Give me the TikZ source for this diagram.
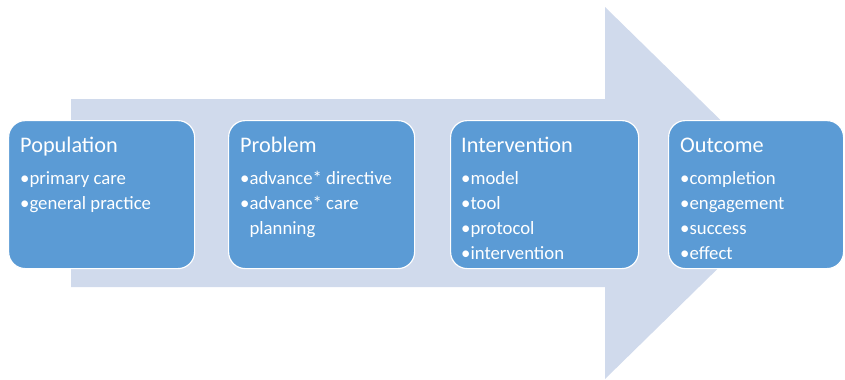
\documentclass[tikz,border=0pt]{standalone}
\usepackage{fontspec}
\setmainfont{Carlito}
\usetikzlibrary{positioning}
\definecolor{boxblue}{RGB}{91,155,213}
\definecolor{arrowgray}{RGB}{208,218,236}

\begin{document}
\begin{tikzpicture}[x=0.03cm, y=-0.03cm,
	stepbox/.style={draw=white, line width=1pt, fill=boxblue, rounded corners=0.5cm, minimum height=4.44cm, inner sep=0pt, anchor=north west},
	boxtitle/.style={text=white, font=\fontsize{19}{22}\selectfont, inner sep=0pt, anchor=base west},
	boxitems/.style={text=white, font=\fontsize{16}{21.2}\selectfont, align=left, inner sep=0pt, anchor=north west}]
			\useasboundingbox (0, 0) rectangle (845, 379);
			
			% big arrow behind the boxes
			\fill[arrowgray] (71, 99) -- (605, 99) -- (605, 7) -- (795, 193) -- (605, 379) -- (605, 287) -- (71, 287) -- cycle;
			
			\node [stepbox, minimum width=5.58cm] (population) at (8, 120) {};
			\node [stepbox, minimum width=5.58cm] (problem) at (228, 120) {};
			\node [stepbox, minimum width=5.64cm] (intervention) at (450, 120) {};
			\node [stepbox, minimum width=5.25cm] (outcome) at (668, 120) {};
			
			% item lists hang from the top of their first line
			\node [boxtitle] (populationtitle) at (20, 152) {Population};
			\node [boxitems] (populationitems) at (20, 167) {\strut•primary care\\•general practice};
			
			\node [boxtitle] (problemtitle) at (240, 152) {Problem};
			\node [boxitems] (problemitems) at (240, 167) {\strut•advance* directive\\•advance* care\\\phantom{•}planning};
			
			\node [boxtitle] (interventiontitle) at (461, 152) {Intervention};
			\node [boxitems] (interventionitems) at (461, 167) {\strut•model\\•tool\\•protocol\\•intervention};
			
			\node [boxtitle] (outcometitle) at (680, 152) {Outcome};
			\node [boxitems] (outcomeitems) at (680, 167) {\strut•completion\\•engagement\\•success\\•effect};
		\end{tikzpicture}
\end{document}
